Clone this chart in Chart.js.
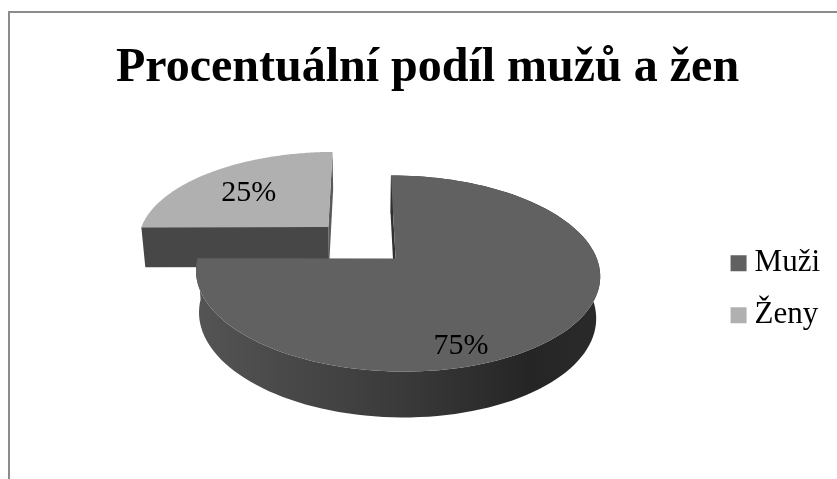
<!DOCTYPE html>
<html lang="cs">
<head>
<meta charset="utf-8">
<title>Procentuální podíl mužů a žen</title>
<script src="https://cdn.jsdelivr.net/npm/chart.js@4/dist/chart.umd.min.js"></script>
<style>
    html, body { margin: 0; height: 100%; overflow: hidden; background: #fff; }
    #frame {
        position: absolute; left: 8px; top: 11px; width: 900px; height: 500px;
        border-left: 2px solid #8c8c8c; border-top: 2px solid #8c8c8c;
    }
    canvas { display: block; position: absolute; left: 25px; top: 13px; }
</style>
</head>
<body>
<div id="frame"></div>
<canvas id="pieChart" width="805" height="466"></canvas>
<script>
const chartTitle = 'Procentuální podíl mužů a žen';
const categories = ['Muži', 'Ženy'];
const shares = [75, 25];
const topColors = ['#616161', '#b0b0b0'];

const serif = '"Liberation Serif", "Times New Roman", serif';

// Tilted view of the flat pie: everything is projected from unit-disc coordinates
const view = {
    liftY: 47,      // the disc sits higher than the centre of the chart area
    shiftX: -10,
    scaleX: 1.022,
    scaleY: 0.478,
    tilt: 0.15,
    skew: -0.008,
    explode: 0.245,
    depth: 40
};
// where each percentage sits, relative to the tip of its slice
const labelOffsets = [[0.265, -0.8], [-0.46, 0.42]];

const pie3d = {
    id: 'pie3d',
    beforeDatasetDraw(chart) {
        const arcs = chart.getDatasetMeta(0).data;
        const ctx = chart.ctx;
        const R = arcs[0].outerRadius;
        const cx = arcs[0].x + view.shiftX;
        const cy = arcs[0].y - view.liftY;

        const project = (u, v) => {
            const w = 1 + view.tilt * v + view.skew * u;
            return {x: cx + R * view.scaleX * u / w, y: cy - R * view.scaleY * v / w};
        };
        // the lower rim, a bit deeper towards the viewer
        const drop = (p) => ({
            x: p.x + (cx + 9 - p.x) * 0.0174,
            y: p.y + view.depth + (p.y - cy + 16) * 0.04
        });
        const tipOf = (arc) => {
            const mid = (arc.startAngle + arc.endAngle) / 2;
            return {u: Math.cos(mid) * view.explode, v: -Math.sin(mid) * view.explode};
        };
        const rimPoints = (arc, from, to) => {
            const tip = tipOf(arc);
            const pts = [];
            for (let i = 0; i <= 120; i++) {
                const a = from + (to - from) * i / 120;
                pts.push(project(tip.u + Math.cos(a), tip.v - Math.sin(a)));
            }
            return pts;
        };
        const fillPath = (pts, color) => {
            ctx.beginPath();
            pts.forEach((p, i) => i ? ctx.lineTo(p.x, p.y) : ctx.moveTo(p.x, p.y));
            ctx.closePath();
            ctx.fillStyle = color;
            ctx.fill();
        };
        const face = (a, b, color) => fillPath([a, b, drop(b), drop(a)], color);

        const men = arcs[0];
        const women = arcs[1];
        const menTip = tipOf(men);
        const womenTip = tipOf(women);
        const menApex = project(menTip.u, menTip.v);
        const womenApex = project(womenTip.u, womenTip.v);

        ctx.save();
        ctx.lineJoin = 'round';

        // smaller slice first, the big one overlaps it
        const womenRim = rimPoints(women, women.startAngle, women.endAngle);
        face(womenApex, womenRim[womenRim.length - 1], '#5a5a5a');
        face(womenApex, womenRim[0], '#474747');
        fillPath([womenApex, ...womenRim], topColors[1]);

        // outer wall of the big slice, darker to the right
        const menRim = rimPoints(men, men.startAngle, men.endAngle);
        const wall = ctx.createLinearGradient(cx - R * view.scaleX, 0, cx + R * view.scaleX * 1.2, 0);
        wall.addColorStop(0, '#585858');
        wall.addColorStop(0.55, '#3a3a3a');
        wall.addColorStop(0.85, '#252525');
        wall.addColorStop(1, '#2a2a2a');
        fillPath([...menRim, ...menRim.map(drop).reverse()], wall);
        face(menRim[0], menApex, '#303030');
        fillPath([menApex, ...menRim], topColors[0]);

        // percentages
        const total = shares.reduce((a, b) => a + b, 0);
        ctx.font = '30px ' + serif;
        ctx.fillStyle = '#000';
        ctx.textAlign = 'center';
        ctx.textBaseline = 'middle';
        [menTip, womenTip].forEach((tip, i) => {
            const p = project(tip.u + labelOffsets[i][0], tip.v + labelOffsets[i][1]);
            ctx.fillText(Math.round(shares[i] / total * 100) + '%', p.x, p.y);
        });
        ctx.restore();
        return false;
    }
};

new Chart(document.getElementById('pieChart'), {
    type: 'pie',
    data: {
        labels: categories,
        datasets: [{
            data: shares,
            backgroundColor: topColors,
            borderWidth: 0
        }]
    },
    options: {
        responsive: false,
        animation: false,
        plugins: {
            tooltip: {enabled: false},
            title: {
                display: true,
                text: chartTitle,
                color: '#000',
                font: {family: serif, size: 48, weight: 'bold'},
                padding: {top: 27, bottom: 2}
            },
            legend: {
                position: 'right',
                fullSize: false,
                labels: {
                    color: '#000',
                    font: {family: serif, size: 31},
                    usePointStyle: true,
                    pointStyle: 'rect',
                    boxWidth: 1,
                    boxHeight: 16,
                    padding: 21
                }
            }
        }
    },
    plugins: [pie3d]
});
</script>
</body>
</html>
